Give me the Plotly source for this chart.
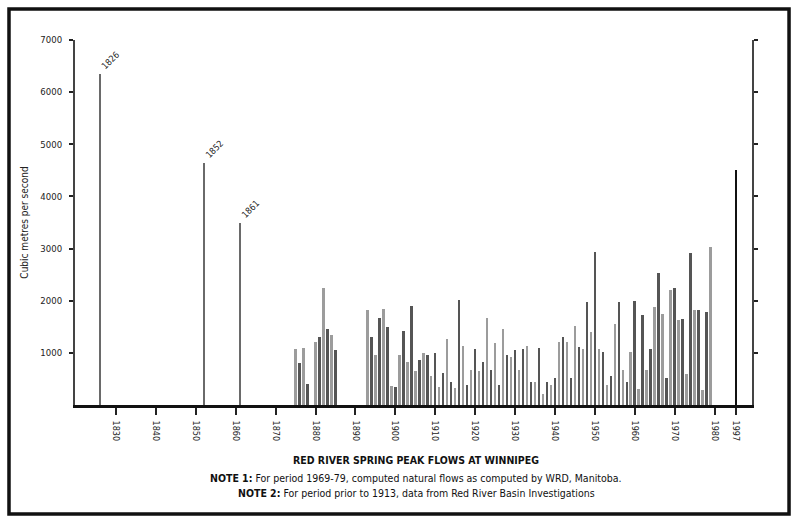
import plotly.graph_objects as go

# ---------------- data ----------------
years = [1826, 1852, 1861,
         1875, 1876, 1877, 1878,
         1880, 1881, 1882, 1883, 1884, 1885,
         1893, 1894, 1895, 1896, 1897, 1898, 1899, 1900,
         1901, 1902, 1903, 1904, 1905, 1906, 1907, 1908, 1909, 1910,
         1911, 1912, 1913, 1914, 1915, 1916, 1917, 1918, 1919, 1920,
         1921, 1922, 1923, 1924, 1925, 1926, 1927, 1928, 1929, 1930,
         1931, 1932, 1933, 1934, 1935, 1936, 1937, 1938, 1939, 1940,
         1941, 1942, 1943, 1944, 1945, 1946, 1947, 1948, 1949, 1950,
         1951, 1952, 1953, 1954, 1955, 1956, 1957, 1958, 1959, 1960,
         1961, 1962, 1963, 1964, 1965, 1966, 1967, 1968, 1969, 1970,
         1971, 1972, 1973, 1974, 1975, 1976, 1977, 1978, 1979,
         1997]
flows = [6350, 4650, 3500,
         1080, 800, 1100, 400,
         1200, 1300, 2250, 1450, 1350, 1050,
         1830, 1300, 960, 1660, 1840, 1500, 370, 350,
         955, 1415, 830, 1900, 650, 860, 990, 950, 560, 990,
         350, 610, 1275, 450, 320, 2010, 1130, 380, 670, 1080,
         650, 830, 1660, 670, 1190, 380, 1465, 950, 920, 1060,
         680, 1080, 1130, 450, 450, 1100, 220, 450, 380, 520,
         1210, 1310, 1210, 520, 1510, 1115, 1065, 1975, 1400, 2930,
         1080, 1020, 380, 555, 1560, 1975, 680, 450, 1020, 1990,
         300, 1720, 680, 1065, 1870, 2530, 1750, 520, 2200, 2250,
         1625, 1640, 600, 2910, 1830, 1830, 290, 1785, 3030,
         4500]
labelled_years = [1826, 1852, 1861]
tick_years = [1830, 1840, 1850, 1860, 1870, 1880, 1890, 1900, 1910,
              1920, 1930, 1940, 1950, 1960, 1970, 1980, 1997]
y_ticks = [1000, 2000, 3000, 4000, 5000, 6000, 7000]

title_text = "RED RIVER SPRING PEAK FLOWS AT WINNIPEG"
note1 = "<b>NOTE 1:</b> For period 1969-79, computed natural flows as computed by WRD, Manitoba."
note2 = "<b>NOTE 2:</b> For period prior to 1913, data from Red River Basin Investigations"
y_title = "Cubic metres per second"

# ---------------- helpers ----------------
BREAK = 1980


def pos(y):
    # the axis is compressed after 1980 (broken axis in the original)
    return y if y <= BREAK else BREAK + (y - BREAK) * 0.32


FONT = "Liberation Sans Narrow, DejaVu Sans Condensed, Liberation Sans, sans-serif"

x_pos = [pos(y) for y in years]
colors = []
for i, y in enumerate(years):
    if y in labelled_years:
        colors.append("#6a6a6a")
    elif y > BREAK:
        colors.append("#111111")
    else:
        colors.append("#555555" if i % 2 == 0 else "#9c9c9c")

fig = go.Figure()
fig.add_trace(go.Bar(
    x=x_pos, y=flows, width=0.62,
    marker=dict(color=colors, line=dict(width=0)),
    hovertext=[str(y) for y in years], hoverinfo="text+y",
))

for y in labelled_years:
    fig.add_annotation(
        x=pos(y), y=flows[years.index(y)], text=str(y), textangle=-45,
        xanchor="left", yanchor="bottom", showarrow=False, xshift=-3,
        font=dict(family=FONT, size=9, color="#222222"),
    )

fig.update_layout(
    width=791, height=529,
    margin=dict(l=75, r=39, t=40, b=124),
    paper_bgcolor="white", plot_bgcolor="white",
    showlegend=False, bargap=0,
    font=dict(family=FONT, color="#222222"),
    xaxis=dict(
        range=[1819.7, 1989.4],
        tickmode="array", tickvals=[pos(t) for t in tick_years],
        ticktext=[str(t) for t in tick_years],
        tickangle=90, ticks="outside", ticklen=7, tickwidth=1.5,
        tickcolor="#222222", ticklabelstandoff=4,
        tickfont=dict(family=FONT, size=9, color="#222222"),
        showline=True, linecolor="#111111", linewidth=2.5,
        showgrid=False, zeroline=False,
    ),
    yaxis=dict(
        range=[0, 7000],
        tickmode="array", tickvals=y_ticks,
        ticktext=[str(t) for t in y_ticks],
        ticks="outside", ticklen=4, tickwidth=1.5, tickcolor="#222222",
        ticklabelstandoff=5,
        tickfont=dict(family=FONT, size=9.5, color="#222222"),
        showline=True, linecolor="#444444", linewidth=2, mirror="ticks",
        showgrid=False, zeroline=False,
        title=dict(text=y_title, standoff=10,
                   font=dict(family=FONT, size=10, color="#222222")),
    ),
)

# bottom caption
for txt, yy in [("<b>" + title_text + "</b>", -0.151), (note1, -0.200), (note2, -0.241)]:
    fig.add_annotation(x=0.504, y=yy, xref="paper", yref="paper",
                       xanchor="center", yanchor="middle",
                       text=txt, showarrow=False,
                       font=dict(family=FONT, size=10.5, color="#111111"))

# scanned page frame
fig.add_shape(type="rect", xref="paper", yref="paper",
              x0=-0.0975, x1=1.0547, y0=-0.2986, y1=1.085,
              line=dict(color="#111111", width=3.5), fillcolor="rgba(0,0,0,0)",
              layer="above")

fig.write_html("out.html")
